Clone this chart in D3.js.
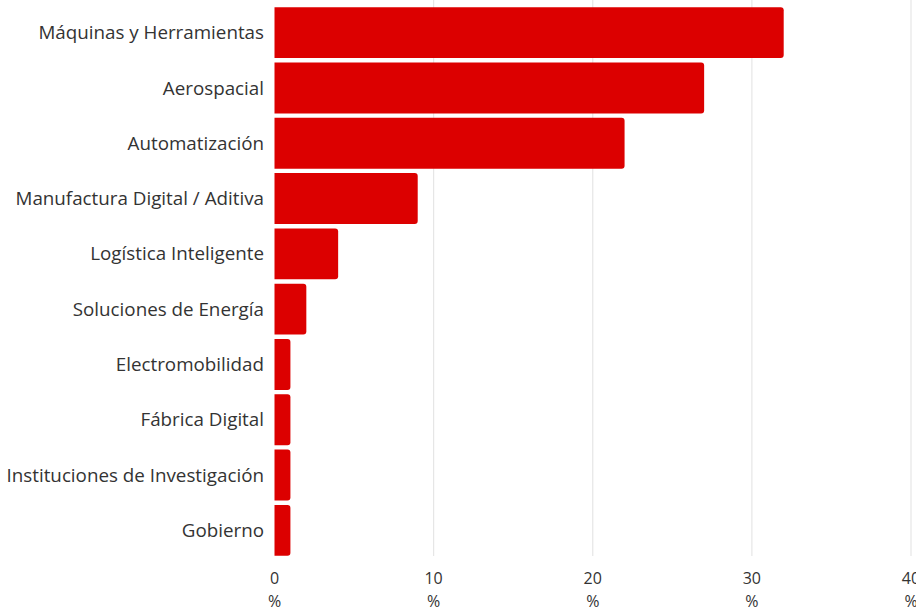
<!DOCTYPE html>
<html><head><meta charset="utf-8">
<script src="https://cdn.jsdelivr.net/npm/d3@7"></script>
<style>body{margin:0;background:#fff}svg{display:block}</style>
</head><body>
<script>
const categories = ["Máquinas y Herramientas","Aerospacial","Automatización","Manufactura Digital / Aditiva","Logística Inteligente","Soluciones de Energía","Electromobilidad","Fábrica Digital","Instituciones de Investigación","Gobierno"];
const values = [32,27,22,9,4,2,1,1,1,1];
const tickValues = [0,10,20,30,40];
const tickUnit = "%";

const W=916,H=612;
const svg=d3.select("body").append("svg").attr("width",W).attr("height",H);
const x=d3.scaleLinear().domain([0,40]).range([274.5,911]);
const y=d3.scaleBand().domain(categories).range([5,558]).paddingInner(0.08).paddingOuter(0.04);
const font="'Open Sans', sans-serif";

// grid
svg.append("g").selectAll("line").data(tickValues.filter(d=>d>0)).join("line")
  .attr("x1",d=>x(d)).attr("x2",d=>x(d)).attr("y1",0).attr("y2",556)
  .attr("stroke","#e6e6e6").attr("stroke-width",1.2);

// bars
const r=3;
svg.append("g").selectAll("path").data(values).join("path")
  .attr("fill","#dc0000")
  .attr("d",(d,i)=>{
    const x0=x(0), x1=x(d), y0=y(categories[i]), h=y.bandwidth();
    const rr=Math.min(r,(x1-x0)/2);
    return `M${x0},${y0}H${x1-rr}Q${x1},${y0} ${x1},${y0+rr}V${y0+h-rr}Q${x1},${y0+h} ${x1-rr},${y0+h}H${x0}Z`;
  });

// y labels
svg.append("g").selectAll("text").data(categories).join("text")
  .attr("x",264).attr("y",d=>y(d)+y.bandwidth()/2).attr("dy","0.35em")
  .attr("text-anchor","end").attr("font-family",font).attr("font-size",18.8)
  .attr("font-weight",500)
  .attr("fill","#333").text(d=>d);

// x ticks
const xt=svg.append("g").selectAll("g").data(tickValues).join("g");
xt.append("text").attr("x",d=>x(d)).attr("y",583.5).attr("text-anchor","middle")
  .attr("font-family",font).attr("font-size",16).attr("font-weight",500).attr("fill","#333").text(d=>d);
xt.append("text").attr("x",d=>x(d)).attr("y",607).attr("text-anchor","middle")
  .attr("font-family",font).attr("font-size",16).attr("font-weight",500).attr("fill","#333").text(tickUnit);
</script>
</body></html>
